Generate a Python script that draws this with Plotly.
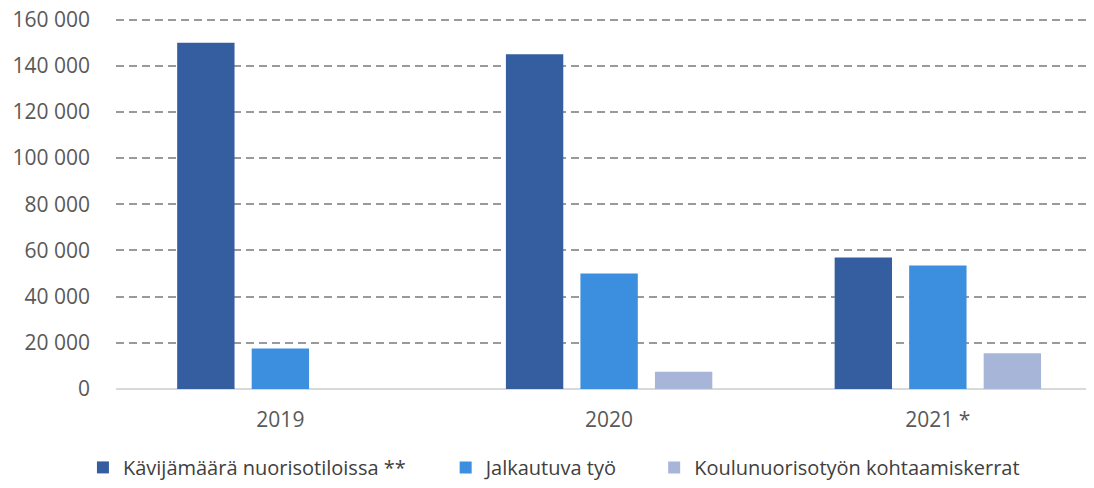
import plotly.graph_objects as go

# Data
years = ['2019', '2020', '2021 *']
kavijamaara = [150000, 145000, 57000]
jalkautuva = [17500, 50000, 53500]
koulunuoriso = [0, 7500, 15500]

series_names = ['Kävijämäärä nuorisotiloissa **', 'Jalkautuva työ', 'Koulunuorisotyön kohtaamiskerrat']
series_values = [kavijamaara, jalkautuva, koulunuoriso]
colors = ['#355ea0', '#3c8fde', '#a7b5d9']
legend_ids = ['legend', 'legend2', 'legend3']
legend_x = [0.069, 0.403, 0.595]

# page body adds an 8px margin, so the figure is sized to fit the 1094x488 window
W, H = 1086, 472
fig = go.Figure()

for name, vals, col, lg in zip(series_names, series_values, colors, legend_ids):
    fig.add_trace(go.Bar(
        x=years, y=vals, name=name, marker=dict(color=col, line=dict(width=0)),
        legend=lg, showlegend=True
    ))

legend_style = dict(orientation='h', xref='container', yref='container', y=0.068, yanchor='top',
                    font=dict(family='Open Sans', size=20, color='#404040'),
                    bgcolor='rgba(0,0,0,0)', itemwidth=30)

fig.update_layout(
    width=W, height=H,
    margin=dict(l=108, r=0, t=7, b=91, autoexpand=False),
    plot_bgcolor='white', paper_bgcolor='white',
    showlegend=True,
    barmode='group', bargap=0.32, bargroupgap=0.23,
    separators=', ',
    font=dict(family='Open Sans', size=21, color='#595959'),
    xaxis=dict(range=[-0.5, 2.475], showgrid=False, showline=False, ticks='',
               ticklabelstandoff=16, tickfont=dict(size=21, color='#595959')),
    yaxis=dict(range=[0, 162000], tickvals=[0, 20000, 40000, 60000, 80000, 100000, 120000, 140000, 160000],
               tickformat=',d', showgrid=True, ticklabeloverflow='allow',
               gridcolor='#9a9a9a', gridwidth=1.5, griddash='8px,5px',
               zeroline=True, zerolinecolor='#d9d9d9', zerolinewidth=1.5,
               ticks='', ticklabelstandoff=25, tickfont=dict(size=21, color='#595959')),
    legend=dict(legend_style, x=legend_x[0]),
    legend2=dict(legend_style, x=legend_x[1]),
    legend3=dict(legend_style, x=legend_x[2]),
)

fig.write_html("out.html")
